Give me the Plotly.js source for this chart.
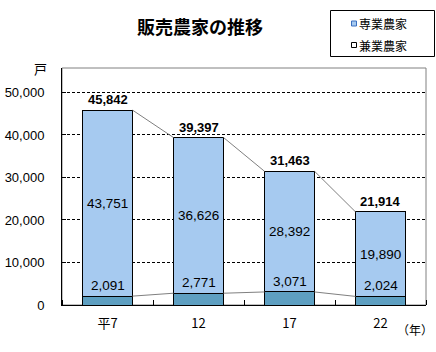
<!DOCTYPE html>
<html>
<head>
<meta charset="utf-8">
<script src="https://cdn.plot.ly/plotly-3.0.1.min.js"></script>
<style>html,body{margin:0;padding:0;background:#fff;}#chart{width:436px;height:352px;}</style>
</head>
<body>
<div id="chart"></div>
<script>
// ---- data ----
const years = ["平7", "12", "17", "22"];
const senngyou = [2091, 2771, 3071, 2024];      // 専業農家
const kengyou = [43751, 36626, 28392, 19890];   // 兼業農家
const seriesNames = ["専業農家", "兼業農家"];
const yTicks = [0, 10000, 20000, 30000, 40000, 50000];

// ---- layout helpers ----
const W = 436, H = 352;
const M = {l: 62, r: 10, t: 68, b: 47};
const PW = W - M.l - M.r, PH = H - M.t - M.b;
const px = x => (x - M.l) / PW;
const py = y => (H - M.b - y) / PH;
const BW = 0.55;
const fmt = v => v.toLocaleString('en-US');
const JP = '"Noto Sans CJK JP", sans-serif';
const NUM = '"Liberation Sans", Arial, sans-serif';

const xs = years.map((_, i) => i);
const totals = senngyou.map((v, i) => v + kengyou[i]);

function connector(vals) {
  const cx = [], cy = [];
  for (let i = 0; i < vals.length - 1; i++) {
    cx.push(i + BW / 2, i + 1 - BW / 2, null);
    cy.push(vals[i], vals[i + 1], null);
  }
  return {x: cx, y: cy, type: 'scatter', mode: 'lines', line: {color: '#808080', width: 1}, hoverinfo: 'skip', showlegend: false};
}

const traces = [
  {x: xs, y: senngyou, type: 'bar', name: seriesNames[0], width: BW,
   marker: {color: '#5E9FC1', line: {color: '#000', width: 1}}, showlegend: false},
  {x: xs, y: kengyou, type: 'bar', name: seriesNames[1], width: BW,
   marker: {color: '#A6CAF0', line: {color: '#000', width: 1}}, showlegend: false},
  connector(totals),
  connector(senngyou)
];

const annotations = [];
xs.forEach((x, i) => {
  annotations.push({x: x, y: totals[i], xref: 'x', yref: 'y', text: fmt(totals[i]), showarrow: false,
    yanchor: 'bottom', yshift: 1, font: {family: NUM, size: 13, color: '#000', weight: 'bold'}});
  annotations.push({x: x, y: senngyou[i] + kengyou[i] / 2, xref: 'x', yref: 'y', text: fmt(kengyou[i]), showarrow: false,
    yanchor: 'middle', font: {family: NUM, size: 13.5, color: '#000'}});
  annotations.push({x: x, y: senngyou[i], xref: 'x', yref: 'y', text: fmt(senngyou[i]), showarrow: false,
    yanchor: 'bottom', yshift: 1, font: {family: NUM, size: 13.5, color: '#000'}});
});
// unit labels
annotations.push({xref: 'paper', yref: 'paper', x: px(40), y: py(68), text: '戸', showarrow: false,
  xanchor: 'center', yanchor: 'middle', font: {family: JP, size: 13, color: '#000'}});
annotations.push({xref: 'paper', yref: 'paper', x: px(435), y: py(329), text: '（年）', showarrow: false,
  xanchor: 'right', yanchor: 'middle', font: {family: JP, size: 12, color: '#000'}});
// legend text
annotations.push({xref: 'paper', yref: 'paper', x: px(357), y: py(23.5), text: seriesNames[0], showarrow: false,
  xanchor: 'left', yanchor: 'middle', font: {family: JP, size: 12, color: '#000'}});
annotations.push({xref: 'paper', yref: 'paper', x: px(357), y: py(45), text: seriesNames[1], showarrow: false,
  xanchor: 'left', yanchor: 'middle', font: {family: JP, size: 12, color: '#000'}});

const shapes = [
  {type: 'rect', xref: 'paper', yref: 'paper', x0: 0, x1: 1, y0: 0, y1: 1, line: {color: '#808080', width: 1}, layer: 'below'},
  {type: 'rect', xref: 'paper', yref: 'paper', x0: px(330.5), x1: px(434.5), y0: py(10.5), y1: py(56.5), line: {color: '#000', width: 1}, fillcolor: '#fff'},
  {type: 'rect', xref: 'paper', yref: 'paper', x0: px(351.5), x1: px(356.5), y0: py(21), y1: py(26), line: {color: '#3A6FC0', width: 1}, fillcolor: '#A6CAF0'},
  {type: 'rect', xref: 'paper', yref: 'paper', x0: px(351.5), x1: px(356.5), y0: py(42.5), y1: py(47.5), line: {color: '#000', width: 1}, fillcolor: '#fff'}
];

const layout = {
  width: W, height: H,
  margin: M,
  paper_bgcolor: '#fff', plot_bgcolor: '#fff',
  barmode: 'stack',
  bargap: 0,
  showlegend: false,
  title: {text: '販売農家の推移', x: 200 / W, xanchor: 'center', xref: 'container', y: 1 - 28 / H, yanchor: 'middle', yref: 'container',
    font: {family: JP, size: 18, color: '#000', weight: 'bold'}},
  xaxis: {range: [-0.5, 3.5], tickvals: xs, ticktext: years, ticks: '', showgrid: false, zeroline: false,
    showline: true, linecolor: '#000', linewidth: 1,
    minor: {tick0: 0.5, dtick: 1, ticks: 'inside', ticklen: 5, tickcolor: '#000', tickwidth: 1, showgrid: false},
    tickfont: {family: JP, size: 13, color: '#000'}, ticklabelstandoff: 6, fixedrange: true},
  yaxis: {range: [0, 55750], tickvals: yTicks, ticktext: yTicks.map(fmt), ticks: 'inside', ticklen: 4, tickcolor: '#000',
    showline: true, linecolor: '#000', linewidth: 1, zeroline: false,
    showgrid: true, gridcolor: '#000', gridwidth: 1, griddash: '3px,2px',
    tickfont: {family: NUM, size: 13, color: '#000'}, ticklabelstandoff: 14, fixedrange: true},
  annotations: annotations,
  shapes: shapes
};

Plotly.newPlot('chart', traces, layout, {staticPlot: true, displayModeBar: false});
</script>
</body>
</html>
